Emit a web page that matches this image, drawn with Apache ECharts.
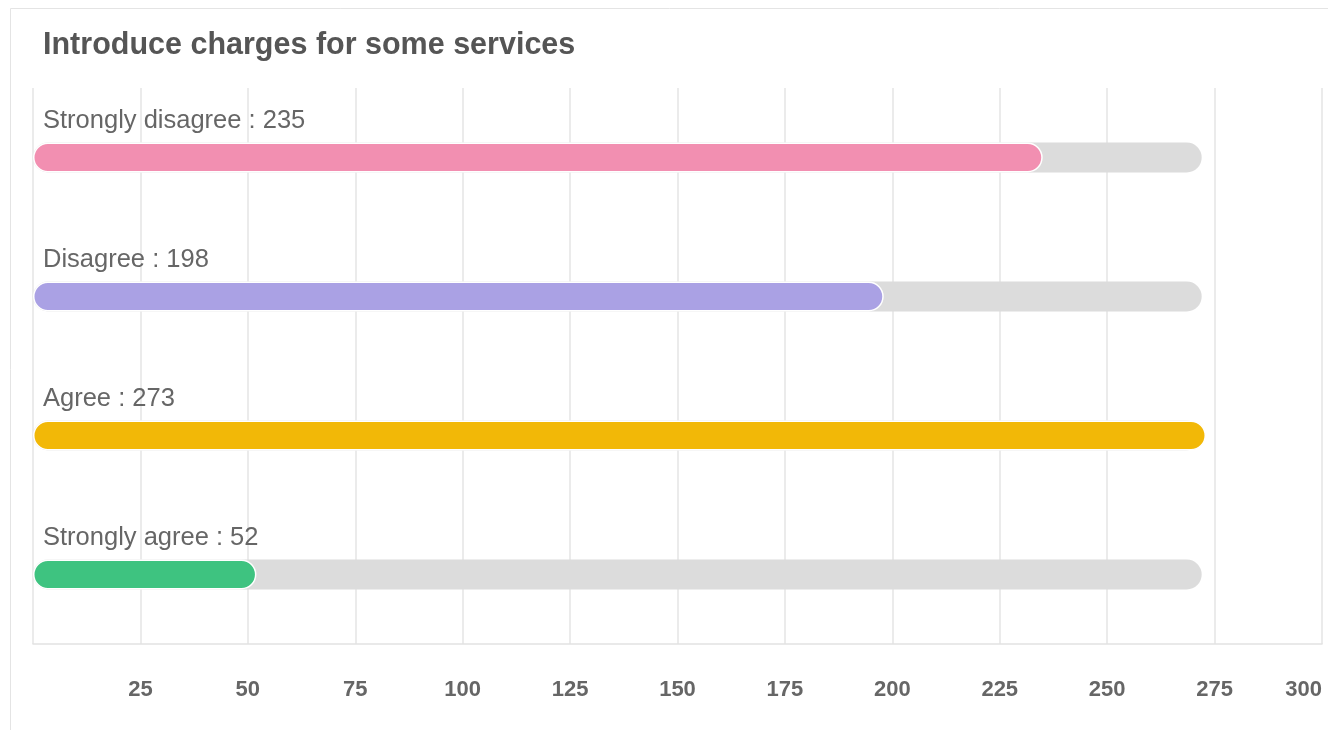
<!DOCTYPE html>
<html>
<head>
<meta charset="utf-8">
<script src="https://cdn.jsdelivr.net/npm/echarts@6/dist/echarts.min.js"></script>
<style>
html,body{margin:0;padding:0;background:#fff;overflow:hidden;}
#chart{width:1328px;height:730px;}
</style>
</head>
<body>
<div id="chart"></div>
<script>
const titleText = 'Introduce charges for some services';
const categories = ['Strongly disagree', 'Disagree', 'Agree', 'Strongly agree'];
const values = [235, 198, 273, 52];
const trackValues = [272, 272, 272, 272];
const barColors = ['#f28fb1', '#aaa1e4', '#f2b807', '#3ec380'];
const xTicks = { min: 0, max: 300, interval: 25 };

const chart = echarts.init(document.getElementById('chart'));
const FONT = '"Liberation Sans", Arial, Helvetica, sans-serif';

chart.setOption({
  animation: false,
  backgroundColor: '#fff',
  graphic: [{
    type: 'rect',
    shape: { x: 10.5, y: 8.5, width: 1500, height: 900 },
    style: { fill: 'none', stroke: '#e4e4e4', lineWidth: 1 },
    silent: true,
    z: -10
  }],
  title: {
    text: titleText,
    left: 38,
    top: 25,
    textStyle: { fontFamily: FONT, fontSize: 30.5, fontWeight: 'bold', color: '#555' }
  },
  grid: { left: 33, right: 6, top: 88, bottom: 86, containLabel: false },
  xAxis: {
    type: 'value',
    min: xTicks.min,
    max: xTicks.max,
    interval: xTicks.interval,
    axisLine: { show: true, lineStyle: { color: '#e2e2e2', width: 1.5 } },
    axisTick: { show: false },
    splitLine: { show: true, lineStyle: { color: '#e4e4e4', width: 1.5 } },
    axisLabel: {
      showMinLabel: false,
      alignMaxLabel: 'right',
      margin: 35,
      fontFamily: FONT,
      fontSize: 22,
      fontWeight: 'bold',
      color: '#666'
    }
  },
  yAxis: {
    type: 'category',
    inverse: true,
    data: categories,
    show: false
  },
  series: [
    {
      type: 'bar',
      data: trackValues,
      barWidth: 30,
      silent: true,
      itemStyle: { color: '#dcdcdc', borderRadius: 15 },
      z: 1
    },
    {
      type: 'bar',
      data: values.map((v, i) => ({ value: v, itemStyle: { color: barColors[i] } })),
      barWidth: 30,
      barGap: '-100%',
      itemStyle: { borderRadius: 15, borderColor: '#fff', borderWidth: 1.5 },
      label: {
        show: true,
        position: [10, -22],
        align: 'left',
        verticalAlign: 'middle',
        formatter: '{b} : {c}',
        fontFamily: FONT,
        fontSize: 25.5,
        color: '#666'
      },
      z: 2
    }
  ]
});
</script>
</body>
</html>
